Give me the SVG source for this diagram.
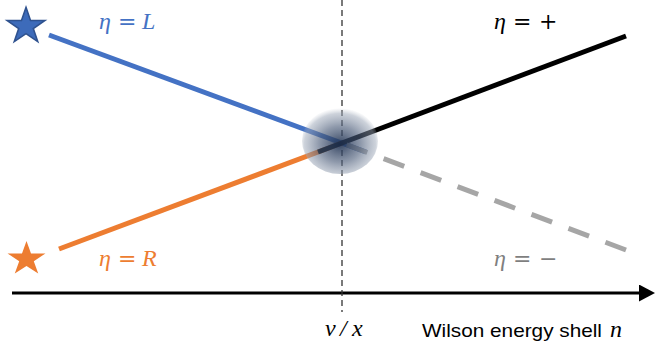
<svg xmlns="http://www.w3.org/2000/svg" width="655" height="350" viewBox="0 0 655 350">
  <style>
    .ln { fill: none; stroke-width: 5; }
    .math { font-family: "Liberation Serif", "DejaVu Serif", serif; font-size: 24px; }
    .op { font-family: "DejaVu Serif", "Liberation Serif", serif; font-size: 22px; }
    .it { font-style: italic; }
    .sans { font-family: "Liberation Sans", "DejaVu Sans", sans-serif; font-size: 19px; }
  </style>
  <defs>
    <polygon id="star" points="0,-19 4.29,-5.91 18.07,-5.87 6.94,2.26 11.17,15.37 0,7.3 -11.17,15.37 -6.94,2.26 -18.07,-5.87 -4.29,-5.91"/>
    <radialGradient id="blobGrad" cx="0.5" cy="0.55" r="0.55">
      <stop offset="0" stop-color="#1E3050" stop-opacity="0.9"/>
      <stop offset="0.5" stop-color="#4A5B78" stop-opacity="0.62"/>
      <stop offset="0.85" stop-color="#9AA5B6" stop-opacity="0.5"/>
      <stop offset="1" stop-color="#B5BDC9" stop-opacity="0"/>
    </radialGradient>
    <marker id="arrow" markerWidth="16" markerHeight="17" refX="0" refY="8.5" orient="auto" markerUnits="userSpaceOnUse">
      <polygon points="0,0 16,8.5 0,17" fill="#000"/>
    </marker>
  </defs>

  <g id="connectors">
    <line id="axis" x1="12" y1="293" x2="639" y2="293" stroke="#000" stroke-width="3" marker-end="url(#arrow)"/>
    <line id="vline" x1="342" y1="0" x2="342" y2="312" stroke="#333" stroke-width="1.3" stroke-dasharray="6,4"/>
    <line id="line-L" class="ln" x1="49" y1="35" x2="366" y2="152" stroke="#4472C4"/>
    <line id="line-R" class="ln" x1="59" y1="249" x2="342" y2="143" stroke="#ED7D31"/>
    <line id="line-plus" class="ln" x1="318" y1="152" x2="626" y2="36" stroke="#000"/>
    <line id="line-minus" class="ln" x1="626" y1="250" x2="342" y2="143" stroke="#A6A6A6" stroke-dasharray="22,17.5"/>
  </g>

  <g id="blob">
    <ellipse cx="340" cy="141" rx="38" ry="33" fill="url(#blobGrad)"/>
  </g>

  <g id="star-L">
    <use href="#star" transform="translate(26,26.3) scale(1.05,1)" fill="#3D6BBA" stroke="#2F528F" stroke-width="1.5"/>
  </g>
  <g id="star-R">
    <use href="#star" transform="translate(26.5,259) scale(1.05,0.95)" fill="#ED7D31"/>
  </g>

  <g id="label-L" fill="#4472C4">
    <text class="math it" x="99" y="29">η</text>
    <text class="op" x="118" y="29">=</text>
    <text class="math it" x="142" y="29">L</text>
  </g>
  <g id="label-R" fill="#ED7D31">
    <text class="math it" x="99" y="266">η</text>
    <text class="op" x="118" y="266">=</text>
    <text class="math it" x="142" y="266">R</text>
  </g>
  <g id="label-plus" fill="#000">
    <text class="math it" x="494" y="29">η</text>
    <text class="op" x="513" y="29">=</text>
    <text class="op" x="539" y="29">+</text>
  </g>
  <g id="label-minus" fill="#7F7F7F">
    <text class="math it" x="494" y="266">η</text>
    <text class="op" x="513" y="266">=</text>
    <text class="op" x="539" y="266">−</text>
  </g>
  <g id="label-vx" fill="#000">
    <text class="math it" x="325" y="336">v</text>
    <text class="math it" x="340" y="336">/</text>
    <text class="math it" x="352" y="336">x</text>
  </g>
  <g id="label-axis" fill="#000">
    <text class="sans" x="422" y="337" textLength="180" lengthAdjust="spacingAndGlyphs">Wilson energy shell</text>
    <text class="math it" x="610" y="337">n</text>
  </g>
</svg>
